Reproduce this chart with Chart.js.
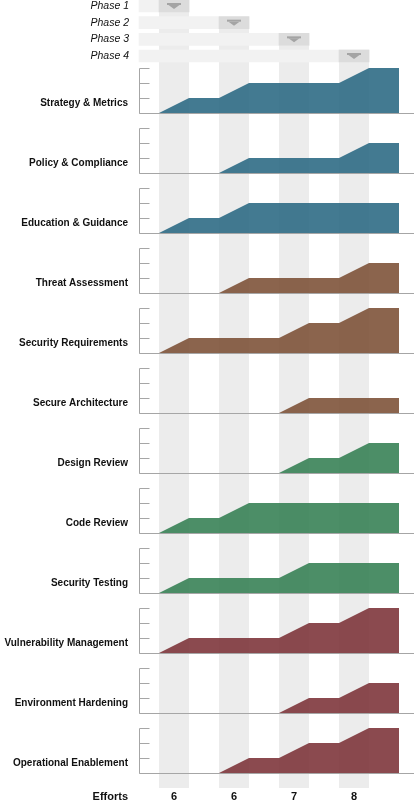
<!DOCTYPE html>
<html>
<head>
<meta charset="utf-8">
<script src="https://cdn.jsdelivr.net/npm/chart.js@4.4.1/dist/chart.umd.min.js"></script>
<style>
html,body{margin:0;padding:0;background:#ffffff;}
#wrap{position:relative;width:414px;height:808px;overflow:hidden;background:#ffffff;}
#wrap canvas{position:absolute;left:0;}
</style>
</head>
<body>
<div id="wrap"></div>
<script>
// ---------- data ----------
const phases = ['Phase 1', 'Phase 2', 'Phase 3', 'Phase 4'];
const efforts = [6, 6, 7, 8];
const effortsLabel = 'Efforts';

const practices = [
  'Strategy & Metrics', 'Policy & Compliance', 'Education & Guidance',
  'Threat Assessment', 'Security Requirements', 'Secure Architecture',
  'Design Review', 'Code Review', 'Security Testing',
  'Vulnerability Management', 'Environment Hardening', 'Operational Enablement'
];
const businessFunction = ['gov','gov','gov','con','con','con','ver','ver','ver','ops','ops','ops'];

// maturity level at: start, end P1, start P2, end P2, start P3, end P3, start P4, end P4, final
const strategyMetrics        = [0, 1, 1, 2, 2, 2, 2, 3, 3];
const policyCompliance       = [0, 0, 0, 1, 1, 1, 1, 2, 2];
const educationGuidance      = [0, 1, 1, 2, 2, 2, 2, 2, 2];
const threatAssessment       = [0, 0, 0, 1, 1, 1, 1, 2, 2];
const securityRequirements   = [0, 1, 1, 1, 1, 2, 2, 3, 3];
const secureArchitecture     = [0, 0, 0, 0, 0, 1, 1, 1, 1];
const designReview           = [0, 0, 0, 0, 0, 1, 1, 2, 2];
const codeReview             = [0, 1, 1, 2, 2, 2, 2, 2, 2];
const securityTesting        = [0, 1, 1, 1, 1, 2, 2, 2, 2];
const vulnerabilityManagement= [0, 1, 1, 1, 1, 2, 2, 3, 3];
const environmentHardening   = [0, 0, 0, 0, 0, 1, 1, 2, 2];
const operationalEnablement  = [0, 0, 0, 1, 1, 2, 2, 3, 3];

const levels = [0, 1, 2, 3];

const seriesValues = [
  strategyMetrics, policyCompliance, educationGuidance,
  threatAssessment, securityRequirements, secureArchitecture,
  designReview, codeReview, securityTesting,
  vulnerabilityManagement, environmentHardening, operationalEnablement
];

// ---------- styles ----------
const fnColors = {
  gov: 'rgba(47,108,133,0.9)',
  con: 'rgba(126,83,58,0.9)',
  ver: 'rgba(56,130,87,0.9)',
  ops: 'rgba(126,54,60,0.9)'
};
const COL_GREY = '#ececec';
const BAR_LIGHT = '#f2f2f2';
const BAR_DARK = '#dcdcdc';
const ARROW = '#a4a4a4';
const AXIS = '#a6a6a6';
const FONT = '"Liberation Sans", Arial, sans-serif';

const W = 414;
const LEFT = 140;
const PX_PER_STEP = 30;
const FIRST_PX = 159;
const X_MIN = -(FIRST_PX - LEFT) / PX_PER_STEP;
const X_MAX = X_MIN + (W - LEFT) / PX_PER_STEP;

const HEADER_H = 64;
const ROW_TOP0 = 60;
const ROW_H = 60;
const EFF_H = 28;

const wrap = document.getElementById('wrap');

function phaseSpan(k) { return [2 * k, 2 * k + 1]; }

function makeCanvas(top, h, z) {
  const c = document.createElement('canvas');
  c.width = W; c.height = h;
  c.style.width = W + 'px'; c.style.height = h + 'px';
  c.style.top = top + 'px';
  c.style.zIndex = z || 1;
  wrap.appendChild(c);
  return c;
}

function drawColumns(chart, topFor, bottom) {
  const x = chart.scales.x, ctx = chart.ctx;
  ctx.save();
  ctx.fillStyle = COL_GREY;
  phases.forEach((p, k) => {
    const [a, b] = phaseSpan(k);
    const x0 = x.getPixelForValue(a), x1 = x.getPixelForValue(b);
    const t = topFor(k);
    ctx.fillRect(x0, t, x1 - x0, bottom - t);
  });
  ctx.restore();
}

const baseOpts = {
  responsive: false,
  animation: false,
  events: [],
  plugins: { legend: { display: false }, tooltip: { enabled: false }, title: { display: false } }
};

// ---------- header (phases) ----------
const headerPlugin = {
  id: 'headerDeco',
  beforeDatasetsDraw(chart) {
    const y = chart.scales.y;
    drawColumns(chart, k => y.getPixelForValue(k) - 6, chart.height);
  },
  afterDatasetsDraw(chart) {
    const x = chart.scales.x, y = chart.scales.y, ctx = chart.ctx;
    ctx.save();
    ctx.fillStyle = ARROW;
    phases.forEach((p, k) => {
      const [a, b] = phaseSpan(k);
      const cx = x.getPixelForValue((a + b) / 2);
      const cy = y.getPixelForValue(k);
      ctx.fillRect(cx - 7, cy - 3, 14, 2);
      ctx.beginPath();
      ctx.moveTo(cx - 5.5, cy - 1);
      ctx.lineTo(cx + 5.5, cy - 1);
      ctx.lineTo(cx, cy + 3);
      ctx.closePath();
      ctx.fill();
    });
    ctx.fillStyle = '#111';
    ctx.font = 'italic 10.5px ' + FONT;
    ctx.textAlign = 'right';
    ctx.textBaseline = 'middle';
    phases.forEach((p, k) => ctx.fillText(p, 129, y.getPixelForValue(k)));
    ctx.restore();
  }
};

const hc = makeCanvas(0, HEADER_H, 5);
new Chart(hc, {
  type: 'bar',
  data: {
    labels: phases,
    datasets: [
      { data: phases.map((p, k) => [X_MIN - 1 / PX_PER_STEP, phaseSpan(k)[1]]),
        backgroundColor: BAR_LIGHT, barThickness: 12, grouped: false, clip: false, order: 2, borderWidth: 0 },
      { data: phases.map((p, k) => phaseSpan(k)),
        backgroundColor: BAR_DARK, barThickness: 12, grouped: false, clip: false, order: 1, borderWidth: 0 }
    ]
  },
  options: Object.assign({}, baseOpts, {
    indexAxis: 'y',
    layout: { padding: { left: LEFT, right: 0, top: 6, bottom: HEADER_H - 56 } },
    scales: {
      x: { type: 'linear', min: X_MIN, max: X_MAX, display: false },
      y: { type: 'category', offset: false, display: false }
    }
  }),
  plugins: [headerPlugin]
});

// ---------- practice rows ----------
const rowPlugin = {
  id: 'rowDeco',
  beforeDraw(chart) {
    drawColumns(chart, () => 0, chart.height);
  },
  afterDatasetsDraw(chart, args, opts) {
    const x = chart.scales.x, y = chart.scales.y, ctx = chart.ctx;
    const area = chart.chartArea;
    const left = Math.round(area.left) - 0.5;
    const bottom = Math.round(y.getPixelForValue(levels[0])) + 0.5;
    ctx.save();
    ctx.strokeStyle = AXIS;
    ctx.lineWidth = 1;
    ctx.beginPath();
    ctx.moveTo(left, Math.round(y.getPixelForValue(levels[levels.length - 1])) + 0.5);
    ctx.lineTo(left, bottom);
    levels.forEach(v => {
      const py = Math.round(y.getPixelForValue(v)) + 0.5;
      ctx.moveTo(left, py);
      ctx.lineTo(left + 10, py);
    });
    ctx.moveTo(left, bottom);
    ctx.lineTo(area.right, bottom);
    ctx.stroke();

    ctx.fillStyle = '#111';
    ctx.font = 'bold 10px ' + FONT;
    ctx.textAlign = 'right';
    ctx.textBaseline = 'middle';
    ctx.fillText(opts.label, 128, y.getPixelForValue(levels[0]) - 10);
    ctx.restore();
  }
};

practices.forEach((name, i) => {
  const c = makeCanvas(ROW_TOP0 + ROW_H * i, ROW_H, 1);
  new Chart(c, {
    type: 'line',
    data: {
      datasets: [{
        data: seriesValues[i].map((v, j) => ({ x: j, y: v })),
        fill: 'origin',
        backgroundColor: fnColors[businessFunction[i]],
        borderColor: 'rgba(0,0,0,0)',
        borderWidth: 0,
        pointRadius: 0,
        tension: 0
      }]
    },
    options: Object.assign({}, baseOpts, {
      layout: { padding: { left: LEFT, right: 0, top: 8, bottom: 7 } },
      scales: {
        x: { type: 'linear', min: X_MIN, max: X_MAX, display: false },
        y: { type: 'linear', min: levels[0], max: levels[levels.length - 1], display: false }
      },
      plugins: Object.assign({}, baseOpts.plugins, { rowDeco: { label: name } })
    }),
    plugins: [rowPlugin]
  });
});

// ---------- efforts ----------
const effortsPlugin = {
  id: 'effortsDeco',
  beforeDraw(chart) {
    drawColumns(chart, () => 0, 8);
  },
  afterDraw(chart) {
    const x = chart.scales.x, ctx = chart.ctx;
    ctx.save();
    ctx.fillStyle = '#111';
    ctx.font = 'bold 11px ' + FONT;
    ctx.textBaseline = 'middle';
    ctx.textAlign = 'right';
    ctx.fillText(effortsLabel, 128, 17);
    ctx.textAlign = 'center';
    efforts.forEach((e, k) => {
      const [a, b] = phaseSpan(k);
      ctx.fillText(String(e), x.getPixelForValue((a + b) / 2), 17);
    });
    ctx.restore();
  }
};
const ec = makeCanvas(ROW_TOP0 + ROW_H * practices.length, EFF_H, 1);
new Chart(ec, {
  type: 'line',
  data: { datasets: [] },
  options: Object.assign({}, baseOpts, {
    layout: { padding: { left: LEFT, right: 0, top: 0, bottom: 0 } },
    scales: {
      x: { type: 'linear', min: X_MIN, max: X_MAX, display: false },
      y: { type: 'linear', min: 0, max: 1, display: false }
    }
  }),
  plugins: [effortsPlugin]
});
</script>
</body>
</html>
